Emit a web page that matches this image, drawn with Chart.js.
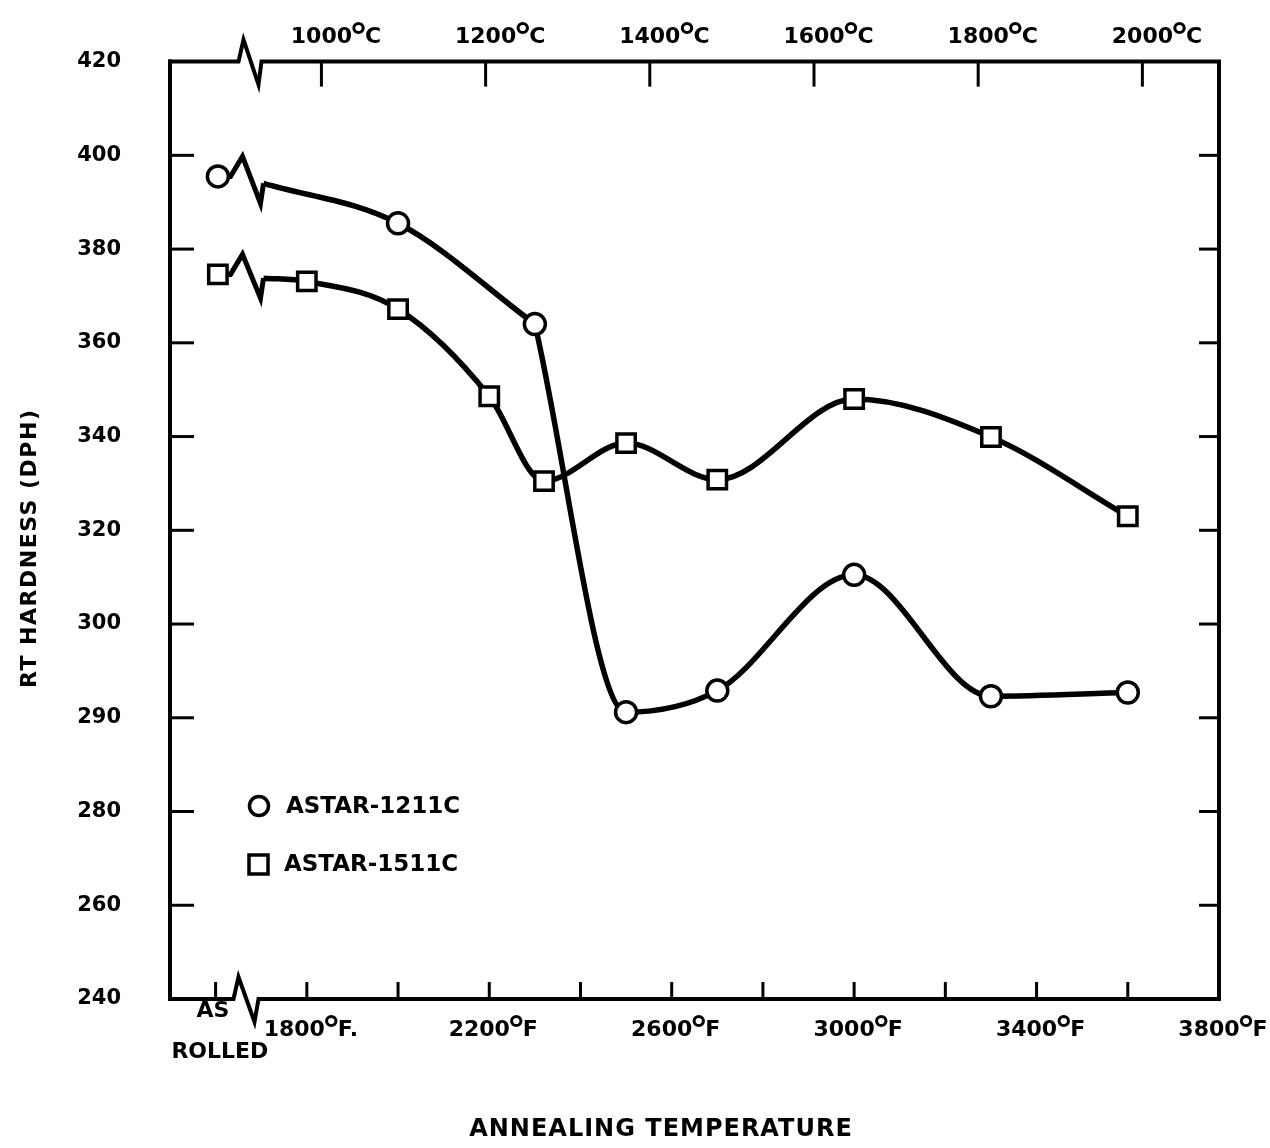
<!DOCTYPE html>
<html>
<head>
<meta charset="utf-8">
<script src="https://cdn.jsdelivr.net/npm/chart.js@4.4.1/dist/chart.umd.min.js"></script>
<style>
  html, body { margin: 0; padding: 0; background: #fff; }
  canvas { display: block; }
</style>
</head>
<body>
<canvas id="hardnessChart" width="1270" height="1148"></canvas>
<script>
// y tick labels as printed on the original (note the uneven 300 / 290 / 280 steps)
const yTickLabels = [240, 260, 280, 290, 300, 320, 340, 360, 380, 400, 420];

// annealing temperatures (deg F) and RT hardness (DPH)
const tempF1211 = [2000, 2300, 2500, 2700, 3000, 3300, 3600];
const hard1211 = [385.5, 364, 290.6, 292.9, 310.5, 292.3, 292.7];
const tempF1511 = [1800, 2000, 2200, 2320, 2500, 2700, 3000, 3300, 3600];
const hard1511 = [373.1, 367.2, 348.6, 330.5, 338.6, 330.8, 348, 339.9, 323];

// "as rolled" values sit left of the axis break
const asRolledF = 1605;
const asRolled1211 = 395.5;
const asRolled1511 = 374.6;
const breakF = 1705;
const break1211 = 394;
const break1511 = 373.8;

const bottomTicksF = [1600, 1800, 2000, 2200, 2400, 2600, 2800, 3000, 3200, 3400, 3600];
const bottomLabelsF = [1800, 2200, 2600, 3000, 3400, 3800];
const topTicksC = [1000, 1200, 1400, 1600, 1800, 2000];

const FONT = '"DejaVu Sans", sans-serif';
const f2c = f => (f - 32) / 1.8;

// position of a hardness value on the printed (uneven) axis
function toPos(v) {
    for (let i = 0; i < yTickLabels.length - 1; i++) {
        const a = yTickLabels[i], b = yTickLabels[i + 1];
        if (v >= a && v <= b) return i + (v - a) / (b - a);
    }
    return v < yTickLabels[0] ? 0 : yTickLabels.length - 1;
}

const pts = (xs, ys) => xs.map((x, i) => ({ x: x, y: toPos(ys[i]) }));

const curve1211a = pts([breakF, tempF1211[0], tempF1211[1]], [break1211, hard1211[0], hard1211[1]]);
const curve1211b = pts(tempF1211.slice(1), hard1211.slice(1));
const curve1511 = pts([breakF].concat(tempF1511), [break1511].concat(hard1511));

function curveSet(data) {
    return {
        data: data,
        borderColor: '#000',
        borderWidth: 5.5,
        pointRadius: 0,
        fill: false,
        cubicInterpolationMode: 'monotone',
        order: 2
    };
}

function markerSet(data, style, radius) {
    return {
        data: data,
        showLine: false,
        pointStyle: style,
        pointRadius: radius,
        pointBorderWidth: 3.5,
        pointBorderColor: '#000',
        pointBackgroundColor: '#fff',
        order: 0
    };
}

// number, raised degree ring, unit
function drawDeg(ctx, num, unit, x, y, centerAll) {
    ctx.fillStyle = '#000';
    ctx.textBaseline = 'alphabetic';
    ctx.textAlign = 'left';
    ctx.font = 'bold 22px ' + FONT;
    const w = ctx.measureText(num).width;
    const uw = ctx.measureText(unit).width;
    ctx.font = 'bold 38px ' + FONT;
    const dw = ctx.measureText('\u00B0').width;
    const total = w + dw - 6 + uw;
    const x0 = centerAll ? x - total / 2 + 4 : x - w / 2;
    ctx.font = 'bold 22px ' + FONT;
    ctx.fillText(num, x0, y + 8);
    ctx.font = 'bold 38px ' + FONT;
    ctx.fillText('\u00B0', x0 + w - 3, y + 15);
    ctx.font = 'bold 22px ' + FONT;
    ctx.fillText(unit, x0 + w + dw - 6, y + 8);
}

function zig(ctx, pts) {
    ctx.beginPath();
    ctx.moveTo(pts[0][0], pts[0][1]);
    for (let i = 1; i < pts.length; i++) ctx.lineTo(pts[i][0], pts[i][1]);
    ctx.stroke();
}

const breakPlugin = {
    id: 'breaks',
    beforeDatasetsDraw(chart) {
        const ctx = chart.ctx, xs = chart.scales.x, ys = chart.scales.y;
        ctx.save();
        ctx.strokeStyle = '#000';
        ctx.lineWidth = 5;
        ctx.lineJoin = 'miter';
        [[asRolled1211, break1211], [asRolled1511, break1511]].forEach(p => {
            const x0 = xs.getPixelForValue(asRolledF), y0 = ys.getPixelForValue(toPos(p[0]));
            const x1 = xs.getPixelForValue(breakF), y1 = ys.getPixelForValue(toPos(p[1]));
            zig(ctx, [[x0, y0], [x1 - 33, y0], [x1 - 21, y0 - 20], [x1 - 3, y1 + 20], [x1, y1]]);
        });
        ctx.restore();
    },
    afterDraw(chart) {
        const ctx = chart.ctx, a = chart.chartArea;
        const xs = chart.scales.x, xc = chart.scales.xC, ys = chart.scales.y;
        ctx.save();
        ctx.strokeStyle = '#000';
        ctx.lineCap = 'butt';

        // frame with axis breaks
        const bx = xs.getPixelForValue(breakF) - 25;
        ctx.lineWidth = 4;
        zig(ctx, [[a.left, a.top - 2], [a.left, a.bottom], [bx - 5, a.bottom], [bx, a.bottom - 22], [bx + 16, a.bottom + 23], [bx + 20, a.bottom], [a.right, a.bottom], [a.right, a.top]]);
        zig(ctx, [[a.right + 2, a.top], [bx + 23, a.top], [bx + 20, a.top + 23], [bx + 5, a.top - 22], [bx, a.top], [a.left - 2, a.top]]);

        // inward tick marks
        ctx.lineWidth = 3;
        for (let i = 1; i < yTickLabels.length - 1; i++) {
            const y = ys.getPixelForValue(i);
            zig(ctx, [[a.left, y], [a.left + 24, y]]);
            zig(ctx, [[a.right - 20, y], [a.right, y]]);
        }
        bottomTicksF.forEach(f => {
            const x = xs.getPixelForValue(f);
            zig(ctx, [[x, a.bottom], [x, a.bottom - 17]]);
        });
        topTicksC.forEach(c => {
            const x = xc.getPixelForValue(c);
            zig(ctx, [[x, a.top], [x, a.top + 25]]);
        });

        // axis labels
        bottomLabelsF.forEach(f => drawDeg(ctx, String(f), f === 1800 ? 'F.' : 'F', xs.getPixelForValue(f), 1028, true));
        topTicksC.forEach(c => drawDeg(ctx, String(c), 'C', xc.getPixelForValue(c), 35, false));

        ctx.fillStyle = '#000';
        ctx.font = 'bold 22px ' + FONT;
        ctx.textAlign = 'center';
        ctx.textBaseline = 'middle';
        const ax = xs.getPixelForValue(asRolledF);
        ctx.fillText('AS', ax - 5, 1011);
        ctx.fillText('ROLLED', ax + 2, 1052);

        // axis titles
        ctx.font = 'bold 24px ' + FONT;
        ctx.letterSpacing = '1px';
        ctx.fillText('ANNEALING TEMPERATURE', 661, 1130);
        ctx.save();
        ctx.translate(30, (a.top + a.bottom) / 2 + 18);
        ctx.rotate(-Math.PI / 2);
        ctx.font = 'bold 22px ' + FONT;
        ctx.letterSpacing = '1.5px';
        ctx.fillText('RT HARDNESS (DPH)', 0, 0);
        ctx.restore();
        ctx.letterSpacing = '0px';

        // legend
        ctx.lineWidth = 3.5;
        ctx.fillStyle = '#fff';
        ctx.beginPath();
        ctx.arc(259, 806, 9.5, 0, Math.PI * 2);
        ctx.fill();
        ctx.stroke();
        ctx.beginPath();
        ctx.rect(249, 855, 19, 19);
        ctx.fill();
        ctx.stroke();
        ctx.fillStyle = '#000';
        ctx.font = 'bold 23px ' + FONT;
        ctx.textAlign = 'left';
        ctx.fillText('ASTAR-1211C', 286, 807);
        ctx.fillText('ASTAR-1511C', 284, 865);
        ctx.restore();
    }
};

new Chart(document.getElementById('hardnessChart'), {
    type: 'line',
    data: {
        datasets: [
            curveSet(curve1211a),
            curveSet(curve1211b),
            curveSet(curve1511),
            markerSet([{ x: asRolledF, y: toPos(asRolled1211) }].concat(pts(tempF1211, hard1211)), 'circle', 10.5),
            markerSet([{ x: asRolledF, y: toPos(asRolled1511) }].concat(pts(tempF1511, hard1511)), 'rect', 13)
        ]
    },
    options: {
        responsive: false,
        animation: false,
        layout: { padding: 0 },
        plugins: { legend: { display: false }, tooltip: { enabled: false } },
        scales: {
            x: {
                type: 'linear', position: 'bottom', min: 1500, max: 3800,
                ticks: { display: false }, grid: { display: false, drawTicks: false }, border: { display: false },
                afterFit: s => { s.height = 149; }
            },
            xC: {
                type: 'linear', position: 'top', min: f2c(1500), max: f2c(3800),
                ticks: { display: false }, grid: { display: false, drawTicks: false }, border: { display: false },
                afterFit: s => { s.height = 60; }
            },
            y: {
                type: 'linear', position: 'left', min: 0, max: 10,
                ticks: {
                    stepSize: 1, padding: 49, color: '#000',
                    font: { family: FONT, size: 21, weight: 'bold' },
                    callback: v => yTickLabels[v]
                },
                grid: { display: false, drawTicks: false }, border: { display: false },
                afterFit: s => { s.width = 170; }
            },
            yR: {
                type: 'linear', position: 'right', min: 0, max: 10,
                ticks: { display: false }, grid: { display: false, drawTicks: false }, border: { display: false },
                afterFit: s => { s.width = 51; }
            }
        }
    },
    plugins: [breakPlugin]
});
</script>
</body>
</html>
